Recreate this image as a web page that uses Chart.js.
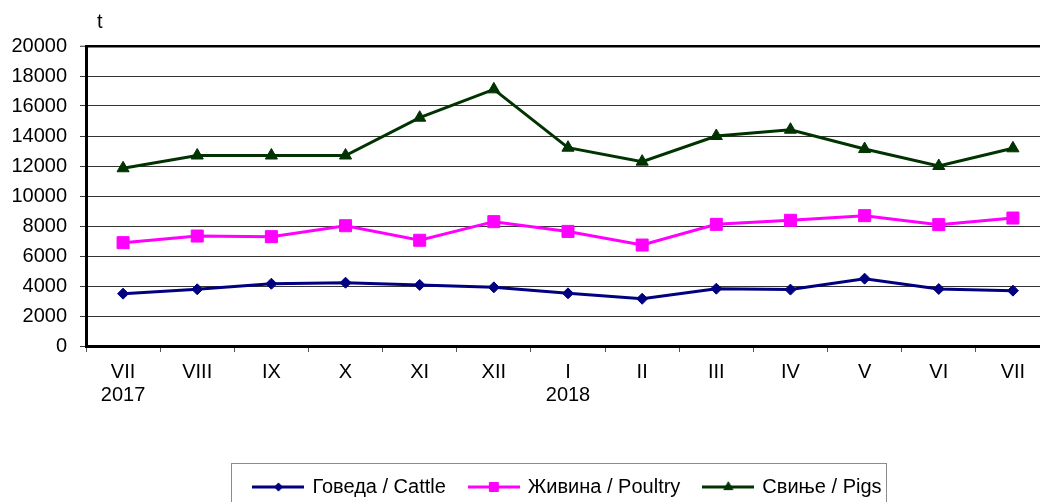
<!DOCTYPE html>
<html>
<head>
<meta charset="utf-8">
<script src="https://cdn.jsdelivr.net/npm/chart.js@4.4.1/dist/chart.umd.min.js"></script>
<style>
html, body { margin: 0; padding: 0; background: #fff; overflow: hidden; }
#wrap { position: relative; width: 1060px; height: 507px; }
</style>
</head>
<body>
<div id="wrap"><canvas id="chart"></canvas></div>
<script>
const months = [['VII', '2017'], ['VIII'], ['IX'], ['X'], ['XI'], ['XII'], ['I', '2018'], ['II'], ['III'], ['IV'], ['V'], ['VI'], ['VII']];
const cattle = [3490, 3780, 4150, 4220, 4070, 3910, 3510, 3150, 3820, 3760, 4490, 3800, 3690];
const poultry = [6890, 7330, 7290, 8020, 7050, 8290, 7640, 6730, 8110, 8380, 8690, 8090, 8530];
const pigs = [11850, 12700, 12700, 12700, 15220, 17110, 13220, 12290, 14000, 14420, 13130, 12000, 13180];
const seriesNames = ['Говеда / Cattle', 'Живина / Poultry', 'Свиње / Pigs'];
const unitLabel = 't';

const FONT = '"Liberation Sans", Arial, sans-serif';

// small line+marker picture for legend entries
function legendIcon(color, style, r) {
    const cv = document.createElement('canvas');
    cv.width = 52;
    cv.height = 16;
    const c = cv.getContext('2d');
    c.strokeStyle = color;
    c.fillStyle = color;
    c.lineWidth = 3;
    c.beginPath();
    c.moveTo(0, 8);
    c.lineTo(52, 8);
    c.stroke();
    c.lineWidth = 1;
    Chart.helpers.drawPoint(c, {pointStyle: style, radius: r, rotation: 0, borderWidth: 1}, 26, 8);
    return cv;
}

const extras = {
    id: 'extras',
    afterDraw(chart) {
        const c = chart.ctx;
        c.save();
        c.font = '20px ' + FONT;
        c.fillStyle = '#000';
        c.textBaseline = 'middle';
        c.fillText(unitLabel, 97, 22);
        const boxes = chart.legend.legendHitBoxes;
        if (boxes && boxes.length) {
            const first = boxes[0], last = boxes[boxes.length - 1];
            const left = Math.round(first.left - 23) + 0.5;
            const right = Math.round(last.left + last.width + 4) + 0.5;
            c.strokeStyle = '#8c8c8c';
            c.lineWidth = 1;
            c.strokeRect(left, 463.5, right - left, 80);
        }
        c.restore();
    }
};

const colors = ['#000080', '#ff00ff', '#003300'];
const styles = ['rectRot', 'rect', 'triangle'];
const radii = [5.5, 8.5, 7];
const values = [cattle, poultry, pigs];

const ctx = document.getElementById('chart').getContext('2d');
const chart = new Chart(ctx, {
    type: 'line',
    data: {
        labels: months,
        datasets: values.map((v, i) => ({
            label: seriesNames[i],
            data: v,
            borderColor: colors[i],
            backgroundColor: colors[i],
            borderWidth: 3,
            pointStyle: styles[i],
            pointRadius: radii[i],
            pointHoverRadius: radii[i],
            pointBorderWidth: 1,
            tension: 0
        }))
    },
    options: {
        responsive: true,
        maintainAspectRatio: false,
        animation: false,
        layout: {padding: {left: 0, right: 10, top: 46, bottom: 0}},
        plugins: {
            tooltip: {enabled: false},
            legend: {
                position: 'bottom',
                fullSize: false,
                labels: {
                    font: {family: FONT, size: 20},
                    color: '#000',
                    padding: 24,
                    usePointStyle: true,
                    pointStyleWidth: 48,
                    generateLabels(chart) {
                        return chart.data.datasets.map((ds, i) => ({
                            text: ds.label,
                            pointStyle: legendIcon(colors[i], styles[i], radii[i] * 0.75),
                            fillStyle: colors[i],
                            strokeStyle: colors[i],
                            lineWidth: 0,
                            hidden: false,
                            datasetIndex: i,
                            fontColor: '#000'
                        }));
                    }
                }
            }
        },
        scales: {
            x: {
                offset: true,
                grid: {display: true, drawOnChartArea: false, drawTicks: true, tickLength: 6, offset: true, color: '#555'},
                border: {color: '#000', width: 3},
                ticks: {
                    autoSkip: false,
                    maxRotation: 0,
                    padding: 9,
                    color: '#000',
                    font: {family: FONT, size: 20, lineHeight: 1.15}
                },
                afterFit(scale) { scale.height = 107; }
            },
            y: {
                min: 0,
                max: 20000,
                grid: {
                    color: c => c.tick && c.tick.value === 20000 ? '#000' : '#333',
                    lineWidth: c => c.tick && c.tick.value === 20000 ? 2.5 : 1,
                    tickLength: 6,
                    tickWidth: 1,
                    tickColor: '#333'
                },
                border: {color: '#000', width: 3},
                ticks: {
                    stepSize: 2000,
                    padding: 13,
                    color: '#000',
                    font: {family: FONT, size: 20},
                    callback: v => String(v)
                },
                afterFit(scale) { scale.width = 86; }
            }
        }
    },
    plugins: [extras]
});
</script>
</body>
</html>
